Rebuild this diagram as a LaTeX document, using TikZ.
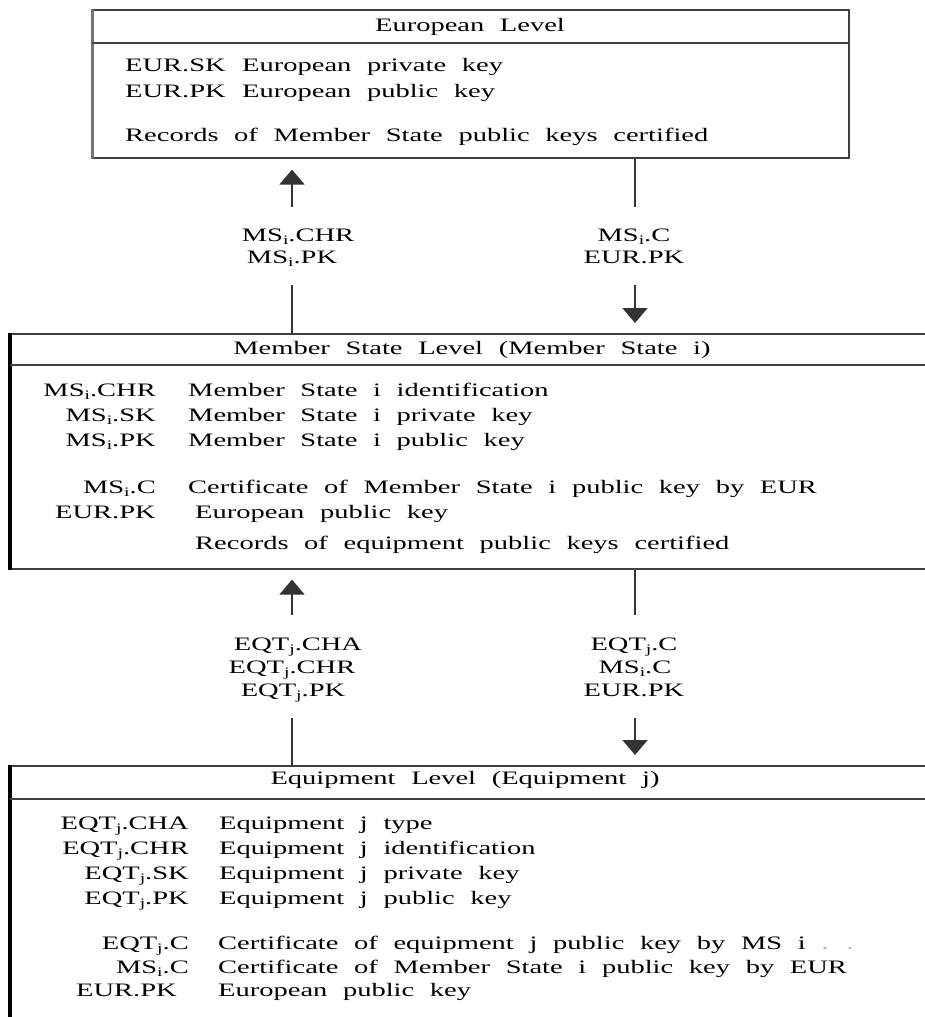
\documentclass[tikz,border=0pt]{standalone}
\usepackage{fontspec}
\setmainfont{Liberation Serif}[FakeStretch=1.5, WordSpace=2.2]
\usetikzlibrary{arrows.meta}
\newcommand\sbi[1]{\raisebox{-0.4ex}{\fontsize{13}{13}\selectfont #1}}
\begin{document}
\begin{tikzpicture}[x=1pt,y=-1pt,
  txt/.style={inner sep=0pt, font=\fontsize{19}{25}\selectfont},
  lab/.style={txt, anchor=base east},
  desc/.style={txt, anchor=base west},
  ttl/.style={txt, anchor=base},
  frame/.style={draw=black!75, line width=1.6pt},
  thick edge/.style={draw=black, line width=3.5pt},
  conn/.style={draw=black!80, line width=1.8pt},
  head/.style={conn, -{Triangle[width=25pt,length=15pt]}}]
\useasboundingbox (0,0) rectangle (925,1017);
\clip (0,0) rectangle (925,1017);

% boxes
\node[frame, inner sep=0pt, minimum width=756pt, minimum height=148pt, anchor=north west] (eur) at (92,9) {};
\node[frame, inner sep=0pt, minimum width=924pt, minimum height=235pt, anchor=north west] (ms) at (10,333) {};
\node[frame, inner sep=0pt, minimum width=924pt, minimum height=340pt, anchor=north west] (eqt) at (10,765) {};
\draw[draw=black!55, line width=3pt] (eur.north west) -- (eur.south west);
\draw[thick edge] (ms.north west) -- (ms.south west);
\draw[thick edge] (eqt.north west) -- (eqt.south west);
\draw[frame] (eur.west |- 0,43) -- (eur.east |- 0,43);
\draw[frame] (ms.west |- 0,365) -- (ms.east |- 0,365);
\draw[frame] (eqt.west |- 0,799) -- (eqt.east |- 0,799);

% European level
\node[ttl] (eurT) at (470,31) {European Level};
\node[desc] (e1l) at (125,71) {EUR.SK};
\node[desc] (e1d) at (242,71) {European private key};
\node[desc] (e2l) at (125,97) {EUR.PK};
\node[desc] (e2d) at (242,97) {European public key};
\node[desc] (e3) at (125,141) {Records of Member State public keys certified};

% Member State level
\node[ttl] (msT) at (472,354) {Member State Level (Member State i)};
\node[lab] (m1l) at (156,396) {MS\sbi{i}.CHR};
\node[desc] (m1d) at (188,396) {Member State i identification};
\node[lab] (m2l) at (156,421) {MS\sbi{i}.SK};
\node[desc] (m2d) at (188,421) {Member State i private key};
\node[lab] (m3l) at (156,446) {MS\sbi{i}.PK};
\node[desc] (m3d) at (188,446) {Member State i public key};
\node[lab] (m4l) at (156,493) {MS\sbi{i}.C};
\node[desc] (m4d) at (188,493) {Certificate of Member State i public key by EUR};
\node[lab] (m5l) at (156,518) {EUR.PK};
\node[desc] (m5d) at (195,518) {European public key};
\node[desc] (m6) at (195,549) {Records of equipment public keys certified};

% Equipment level
\node[ttl] (eqT) at (465,784) {Equipment Level (Equipment j)};
\node[lab] (q1l) at (189,829) {EQT\sbi{j}.CHA};
\node[desc] (q1d) at (219,829) {Equipment j type};
\node[lab] (q2l) at (189,854) {EQT\sbi{j}.CHR};
\node[desc] (q2d) at (219,854) {Equipment j identification};
\node[lab] (q3l) at (189,879) {EQT\sbi{j}.SK};
\node[desc] (q3d) at (219,879) {Equipment j private key};
\node[lab] (q4l) at (189,904) {EQT\sbi{j}.PK};
\node[desc] (q4d) at (219,904) {Equipment j public key};
\node[lab] (q5l) at (189,949) {EQT\sbi{j}.C};
\node[desc] (q5d) at (218,949) {Certificate of equipment j public key by MS i \textcolor{black!30}{. .}};
\node[lab] (q6l) at (189,973) {MS\sbi{i}.C};
\node[desc] (q6d) at (218,973) {Certificate of Member State i public key by EUR};
\node[lab] (q7l) at (177,996) {EUR.PK};
\node[desc] (q7d) at (218,996) {European public key};

% connector labels, first gap
\node[ttl] (a1) at (298,241) {MS\sbi{i}.CHR};
\node[ttl] (a2) at (292,263) {MS\sbi{i}.PK};
\node[ttl] (b1) at (634,241) {MS\sbi{i}.C};
\node[ttl] (b2) at (634,263) {EUR.PK};
% connector labels, second gap
\node[ttl] (c1) at (298,650) {EQT\sbi{j}.CHA};
\node[ttl] (c2) at (292,673) {EQT\sbi{j}.CHR};
\node[ttl] (c3) at (293,696) {EQT\sbi{j}.PK};
\node[ttl] (d1) at (634,650) {EQT\sbi{j}.C};
\node[ttl] (d2) at (635,673) {MS\sbi{i}.C};
\node[ttl] (d3) at (634,696) {EUR.PK};

% connectors
\coordinate (u1t) at (292,207); \coordinate (u1b) at (292,285);
\coordinate (v1t) at (635,207); \coordinate (v1b) at (635,285);
\coordinate (u2t) at (292,615); \coordinate (u2b) at (292,718);
\coordinate (v2t) at (635,615); \coordinate (v2b) at (635,718);

\draw[conn] (ms.north -| u1b) -- (u1b);
\draw[head, shorten >=11pt] (u1t) -- (eur.south -| u1t);
\draw[conn] (eur.south -| v1t) -- (v1t);
\draw[head, shorten >=10pt] (v1b) -- (ms.north -| v1b);

\draw[conn] (eqt.north -| u2b) -- (u2b);
\draw[head, shorten >=10pt] (u2t) -- (ms.south -| u2t);
\draw[conn] (ms.south -| v2t) -- (v2t);
\draw[head, shorten >=10pt] (v2b) -- (eqt.north -| v2b);
\end{tikzpicture}
\end{document}
